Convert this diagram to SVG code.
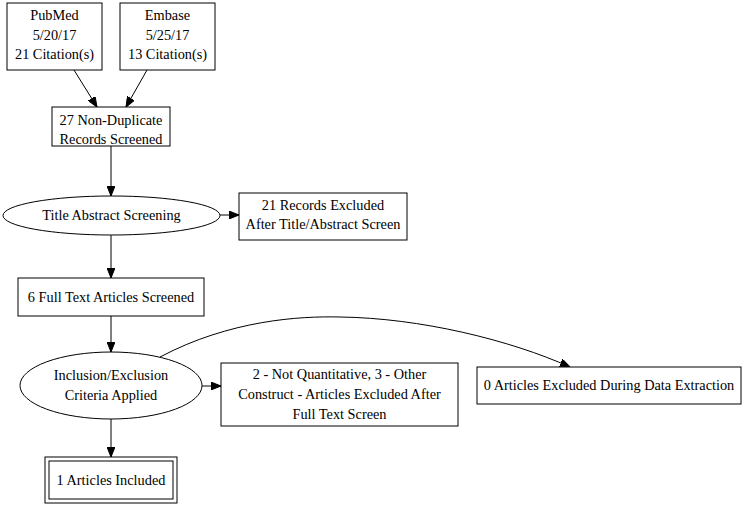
<svg xmlns="http://www.w3.org/2000/svg" width="744" height="506" viewBox="0 0 744 506">
<defs>
<marker id="ah" markerWidth="10" markerHeight="8" refX="10" refY="4" orient="auto" markerUnits="userSpaceOnUse">
<path d="M0,0 L10,4 L0,8 Z" fill="#000" stroke="#000" stroke-width="1"/>
</marker>
</defs>
<style>
.n{fill:#fff;stroke:#000;stroke-width:1}
.t{font-family:"Liberation Serif","Times New Roman",serif;font-size:14.3px;fill:#000;text-anchor:middle}
.e{fill:none;stroke:#000;stroke-width:1;marker-end:url(#ah)}
</style>
<rect width="744" height="506" fill="#fff"/>
<g id="edges">
<path class="e" d="M74,70 L97,107"/>
<path class="e" d="M147,70 L126,107"/>
<path class="e" d="M111,146 L111,196"/>
<path class="e" d="M220,215 L239,215"/>
<path class="e" d="M111,235 L111,278"/>
<path class="e" d="M111,316 L111,352"/>
<path class="e" d="M202,386 L221,386"/>
<path class="e" d="M111,419 L111,457"/>
<path class="e" d="M160,357 C230,320 300,316 340,317 C420,318 510,340 570,367"/>
</g>
<g id="pubmed"><rect class="n" x="7" y="3" width="95" height="67"/>
<text class="t" x="54.5" y="20">PubMed</text><text class="t" x="54.5" y="40">5/20/17</text><text class="t" x="54.5" y="59">21 Citation(s)</text></g>
<g id="embase"><rect class="n" x="120" y="3" width="95" height="67"/>
<text class="t" x="167.5" y="20">Embase</text><text class="t" x="167.5" y="40">5/25/17</text><text class="t" x="167.5" y="59">13 Citation(s)</text></g>
<g id="nondup"><rect class="n" x="52" y="107" width="118" height="39"/>
<text class="t" x="111" y="125">27 Non-Duplicate</text><text class="t" x="111" y="144">Records Screened</text></g>
<g id="tas"><ellipse class="n" cx="111.5" cy="215.5" rx="108.5" ry="19.5"/>
<text class="t" x="111.5" y="220">Title Abstract Screening</text></g>
<g id="excl1"><rect class="n" x="239" y="193" width="168" height="47"/>
<text class="t" x="323" y="210">21 Records Excluded</text><text class="t" x="323" y="229">After Title/Abstract Screen</text></g>
<g id="fulltext"><rect class="n" x="18" y="278" width="186" height="38"/>
<text class="t" x="111" y="302">6 Full Text Articles Screened</text></g>
<g id="incl"><ellipse class="n" cx="111" cy="385.5" rx="91" ry="33.5"/>
<text class="t" x="111" y="380">Inclusion/Exclusion</text><text class="t" x="111" y="400">Criteria Applied</text></g>
<g id="excl2"><rect class="n" x="221" y="363" width="237" height="63"/>
<text class="t" x="339.5" y="379">2 - Not Quantitative, 3 - Other</text><text class="t" x="339.5" y="399">Construct - Articles Excluded After</text><text class="t" x="339.5" y="419">Full Text Screen</text></g>
<g id="excl3"><rect class="n" x="477" y="367" width="264" height="37"/>
<text class="t" x="609" y="390">0 Articles Excluded During Data Extraction</text></g>
<g id="included"><rect class="n" x="45" y="457" width="132" height="46"/><rect class="n" x="49" y="461" width="124" height="38"/>
<text class="t" x="111" y="485">1 Articles Included</text></g>
</svg>
